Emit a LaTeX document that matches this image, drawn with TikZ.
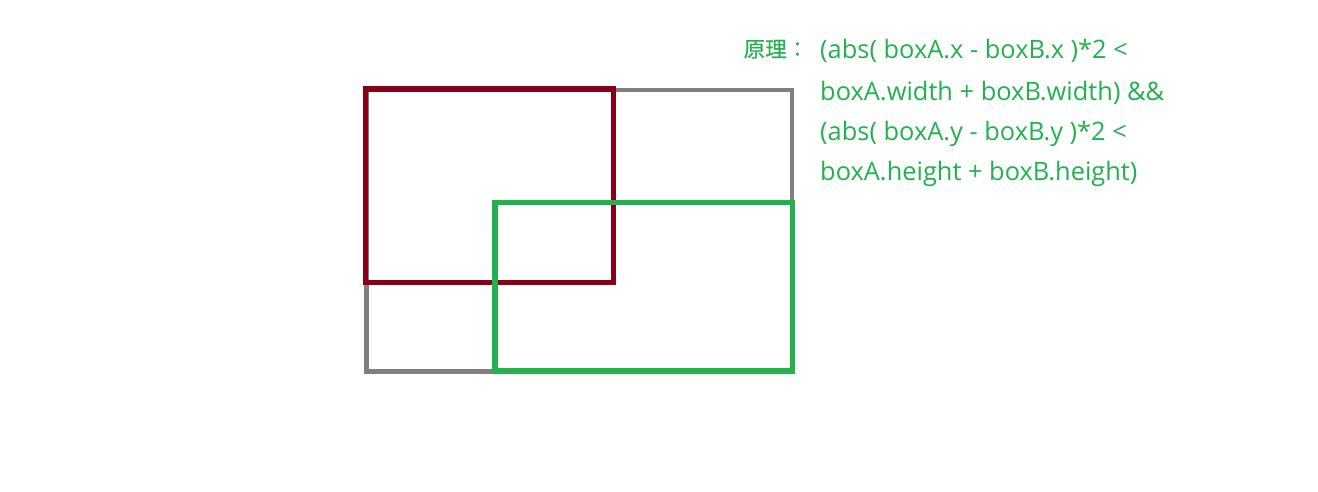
\documentclass[tikz,border=0pt]{standalone}
\usepackage{fontspec}
\setmainfont{Open Sans}
\newfontfamily\cjk[FakeBold=0.6]{Noto Sans CJK TC}
\definecolor{boxgray}{HTML}{7F7F7F}
\definecolor{boxred}{HTML}{880015}
\definecolor{boxgreen}{HTML}{22B14C}
\begin{document}
\begin{tikzpicture}[x=1pt,y=-1pt,
  formula/.style={anchor=base west, inner sep=0pt, text=boxgreen, font=\fontsize{25.4}{30}\selectfont},
  boxline/.style={line join=miter}]
\useasboundingbox (0,0) rectangle (1318,492);
\draw[boxline, boxgray, line width=4.5pt] (366.5,90) rectangle (792,371.3);
\draw[boxline, boxred, line width=5.5pt] (365.5,89) rectangle (613.3,282.5);
\draw[boxline, boxgreen, line width=5.5pt] (495,202.7) rectangle (792.5,371);
\node[formula, font=\cjk\fontsize{21.5}{24}\selectfont] (lbl) at (743.5,57) {原理：};
\node[formula] (l1) at (820,59) {(abs( boxA.x - boxB.x )*2 <};
\node[formula] (l2) at (820,100.5) {boxA.width + boxB.width) \&\&};
\node[formula] (l3) at (820,140.5) {(abs( boxA.y - boxB.y )*2 <};
\node[formula] (l4) at (820,181) {boxA.height + boxB.height)};
\end{tikzpicture}
\end{document}
